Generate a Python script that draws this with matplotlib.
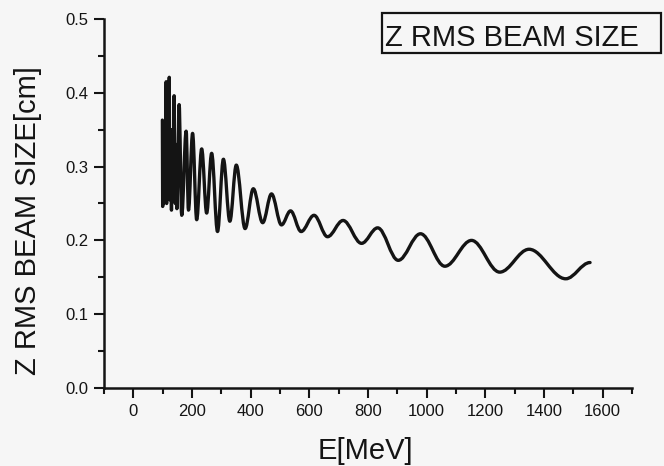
import matplotlib
matplotlib.use('Agg')
import matplotlib.pyplot as plt
from matplotlib.path import Path
from matplotlib.patches import PathPatch, Rectangle
from matplotlib.ticker import MultipleLocator

# ---- data (successive peaks / troughs) ----
energy_mev = [99, 100, 101.5, 103, 104.5, 106, 107.5, 109, 110.5, 112, 113.5,
              115, 116.5, 118, 119.5, 121, 122.5, 124, 125.5, 127, 128.5, 130,
              131.5, 133, 134.5, 136.5, 139, 141, 143, 145, 146.5, 148.5,
              156, 165, 180, 188, 202, 216, 233, 250, 267, 287, 307, 329, 351,
              381, 409, 441, 471, 505, 536, 572, 616, 662, 715, 778, 833, 903,
              979, 1062, 1153, 1249, 1349, 1474, 1557]
beam_size_cm = [0.363, 0.246, 0.360, 0.250, 0.355, 0.260, 0.360, 0.270, 0.350,
                0.415, 0.250, 0.360, 0.280, 0.355, 0.260, 0.350, 0.421, 0.255,
                0.350, 0.280, 0.350, 0.241, 0.340, 0.280, 0.345, 0.270, 0.396,
                0.290, 0.250, 0.330, 0.290, 0.243,
                0.384, 0.234, 0.348, 0.241, 0.345, 0.228, 0.324, 0.237, 0.318,
                0.212, 0.310, 0.226, 0.302, 0.216, 0.270, 0.224, 0.263, 0.221,
                0.240, 0.212, 0.234, 0.205, 0.227, 0.196, 0.217, 0.173, 0.209,
                0.165, 0.200, 0.157, 0.188, 0.148, 0.170]

x_ticks = [0, 200, 400, 600, 800, 1000, 1200, 1400, 1600]
x_tick_labels = ['0', '200', '400', '600', '800', '1000', '1200', '1400', '1600']
y_ticks = [0.0, 0.1, 0.2, 0.3, 0.4, 0.5]
y_tick_labels = ['0.0', '0.1', '0.2', '0.3', '0.4', '0.5']
x_label = 'E[MeV]'
y_label = 'Z RMS BEAM SIZE[cm]'
legend_label = 'Z RMS BEAM SIZE'

FONT = 'Liberation Sans'
INK = '#141414'

fig = plt.figure(figsize=(6.64, 4.66), dpi=100)
fig.patch.set_facecolor('#f6f6f6')
ax = fig.add_axes([104 / 664, 78 / 466, 528 / 664, 369 / 466])
ax.set_facecolor('none')

# smooth curve through the read extrema (horizontal tangents at each point)
verts = [(energy_mev[0], beam_size_cm[0])]
codes = [Path.MOVETO]
for i in range(1, len(energy_mev)):
    x0, y0 = energy_mev[i - 1], beam_size_cm[i - 1]
    x1, y1 = energy_mev[i], beam_size_cm[i]
    dx = x1 - x0
    verts += [(x0 + 0.36 * dx, y0), (x1 - 0.36 * dx, y1), (x1, y1)]
    codes += [Path.CURVE4] * 3
ax.add_patch(PathPatch(Path(verts, codes), facecolor='none', edgecolor=INK,
                       lw=2.4, capstyle='round', joinstyle='round'))

ax.set_xlim(-100, 1700)
ax.set_ylim(0, 0.5)

for s in ('top', 'right'):
    ax.spines[s].set_visible(False)
for s in ('left', 'bottom'):
    ax.spines[s].set_linewidth(1.8)
    ax.spines[s].set_color(INK)

ax.set_xticks(x_ticks)
ax.set_xticklabels(x_tick_labels)
ax.set_yticks(y_ticks)
ax.set_yticklabels(y_tick_labels)
ax.xaxis.set_minor_locator(MultipleLocator(100))
ax.yaxis.set_minor_locator(MultipleLocator(0.05))
ax.tick_params(which='major', direction='out', length=7.5, width=1.5, color=INK,
               labelsize=12, labelcolor=INK, pad=4)
ax.tick_params(which='minor', direction='out', length=4.5, width=1.5, color=INK)
for lab in ax.get_xticklabels() + ax.get_yticklabels():
    lab.set_fontfamily(FONT)

ax.set_xlabel(x_label, fontsize=21, fontfamily=FONT, color=INK)
ax.set_ylabel(y_label, fontsize=21, fontfamily=FONT, color=INK)
ax.xaxis.set_label_coords(0.496, -0.133)
ax.yaxis.set_label_coords(-0.117, 0.455)

# boxed legend label at top right
fig.patches.append(Rectangle((382 / 664, (466 - 53) / 466), 279 / 664, 40 / 466,
                             transform=fig.transFigure, facecolor='none',
                             edgecolor=INK, lw=1.6))
fig.text(385 / 664, (466 - 45.5) / 466, legend_label, fontsize=21, fontfamily=FONT,
         color=INK, ha='left', va='baseline')

fig.savefig('out.png', dpi=100, facecolor=fig.get_facecolor())
